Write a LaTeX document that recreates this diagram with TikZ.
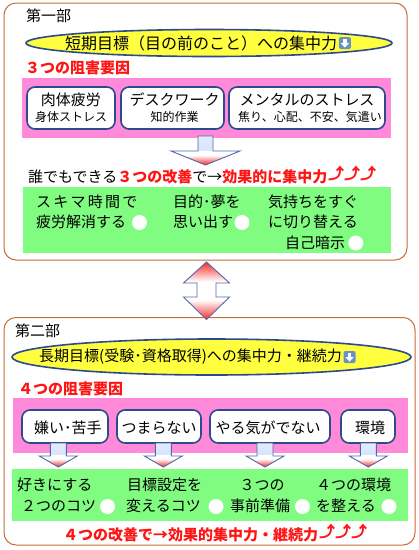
\documentclass[tikz,border=0pt]{standalone}
\usepackage{fontspec}
\setmainfont{Noto Sans CJK JP}
\usetikzlibrary{shapes.geometric,arrows.meta}
\definecolor{frameor}{RGB}{198,110,58}
\definecolor{ellfill}{RGB}{255,255,64}
\definecolor{navy}{RGB}{44,74,140}
\definecolor{pinkband}{RGB}{255,138,218}
\definecolor{greenband}{RGB}{128,252,128}
\definecolor{redtxt}{RGB}{255,20,20}
\definecolor{arrblue}{RGB}{80,105,165}
\definecolor{shaftblue}{RGB}{215,228,250}
\definecolor{iconblue}{RGB}{105,145,195}
\definecolor{arrred}{RGB}{250,40,40}
\pgfdeclareverticalshading{downshade}{100bp}{color(0bp)=(arrred); color(25bp)=(arrred); color(42bp)=(white); color(50bp)=(white); color(51bp)=(shaftblue); color(75bp)=(shaftblue!70); color(100bp)=(shaftblue!70)}
\pgfdeclareverticalshading{dblshade}{100bp}{color(0bp)=(arrred); color(25bp)=(arrred); color(42bp)=(white); color(58bp)=(white); color(75bp)=(arrred); color(100bp)=(arrred)}
\newcommand\blockdown[6]{%
  \shadedraw[blockarrow] (#1-#3,#2) -- (#1+#3,#2) -- (#1+#3,#5) -- (#1+#4,#5)
    -- (#1,#6) -- (#1-#4,#5) -- (#1-#3,#5) -- cycle;}
\newcommand\dnicon[1]{%
  \fill[white] ([shift={(-1.6,-4.5)}]#1.center) rectangle ([shift={(1.6,0.5)}]#1.center);
  \fill[white] ([shift={(-4.2,0)}]#1.center) -- ([shift={(4.2,0)}]#1.center) -- ([shift={(0,4.6)}]#1.center) -- cycle;}
\tikzset{
  frame/.style={draw=frameor, line width=1pt, rounded corners=12pt},
  goal/.style={ellipse, draw=navy, line width=1.6pt, fill=ellfill, inner sep=0},
  factor/.style={draw=navy, line width=1.6pt, fill=white, rounded corners=8pt, inner sep=0},
  txt/.style={inner sep=0, anchor=west, font=\fontsize{15}{18}\selectfont},
  ctxt/.style={inner sep=0, font=\fontsize{15}{18}\selectfont},
  subtxt/.style={inner sep=0, font=\fontsize{12}{14}\selectfont},
  redhead/.style={txt, text=redtxt, font=\fontsize{15}{18}\selectfont\bfseries},
  iconbox/.style={draw=none, fill=iconblue, rounded corners=2pt, minimum size=12pt, inner sep=0},
  dot/.style={circle, fill=white, minimum size=15pt, inner sep=0},
  uparr/.style={inner sep=0, anchor=west, text=redtxt, font=\bfseries\fontsize{16}{18}\selectfont},
  blockarrow/.style={draw=arrblue, line width=0.9pt, shading=downshade},
  dblarrow/.style={draw=arrblue, line width=0.9pt, shading=dblshade},
}
\begin{document}
\begin{tikzpicture}[x=1pt,y=-1pt]
\fill[white] (0,0) rectangle (419,550);
\useasboundingbox (0,0) rectangle (419,550);
% frames
\draw[frame] (4,3) rectangle (407,260);
\draw[frame] (4,317.5) rectangle (415,545);
% ---------- part 1
\node[txt] (p1) at (26,16) {第一部};
\node[goal, minimum width=366pt, minimum height=27pt] (g1) at (209,43) {};
\node[txt, font=\fontsize{16}{18}\selectfont] (g1t) at (65,43) {短期目標（目の前のこと）への集中力};
\node[iconbox] (g1i) at ([xshift=7.5pt]g1t.east) {};
\dnicon{g1i}
\node[redhead] (h1) at (25,68) {３つの阻害要因};
\fill[pinkband] (22,78) rectangle (391,138);
\node[factor, minimum width=88pt, minimum height=42pt] (f1) at (71,108) {};
\node[ctxt] (f1a) at ([shift={(0,-8)}]f1.center) {肉体疲労};
\node[subtxt] (f1b) at ([shift={(0,9)}]f1.center) {身体ストレス};
\node[factor, minimum width=103pt, minimum height=42pt] (f2) at (172.5,108) {};
\node[ctxt] (f2a) at ([shift={(2,-8)}]f2.center) {デスクワーク};
\node[subtxt] (f2b) at ([shift={(2,9)}]f2.center) {知的作業};
\node[factor, minimum width=156pt, minimum height=42pt] (f3) at (307,108) {};
\node[ctxt] (f3a) at ([shift={(0,-8)}]f3.center) {メンタルのストレス};
\node[subtxt] (f3b) at ([shift={(3,9)}]f3.center) {焦り、心配、不安、気遣い};
\blockdown{205.5}{136}{7.5}{34.5}{151}{165}
\node[txt] (l1) at (28,177) {誰でもできる{\bfseries\color{redtxt}３つの改善}で→{\bfseries\color{redtxt}効果的に集中力}};
\node[uparr] (l1u) at ([shift={(0.5,-4)}]l1.east) {⤴⤴⤴};
\fill[greenband] (23,187) rectangle (391,253);
\node[txt, font=\fontsize{15}{18}\selectfont\addfontfeature{LetterSpace=15}] (s1a) at (36,202) {スキマ時間で};
\node[txt] (s1b) at (36,222) {疲労解消する};
\node[dot] (d1) at (139.5,222.5) {};
\node[txt] (s2a) at (173,202) {目的･夢を};
\node[txt] (s2b) at (173,222) {思い出す};
\node[dot] (d2) at (242,222.5) {};
\node[txt] (s3a) at (268,202) {気持ちをすぐ};
\node[txt] (s3b) at (268,222) {に切り替える};
\node[txt] (s3c) at (285,243) {自己暗示};
\node[dot] (d3) at (355.8,243) {};
% double arrow
\shadedraw[dblarrow] (206.5,262) -- (229.5,283) -- (216,283) -- (216,297) -- (229.5,297)
  -- (206.5,319.5) -- (183.5,297) -- (197,297) -- (197,283) -- (183.5,283) -- cycle;
% ---------- part 2
\node[txt] (p2) at (15,331) {第二部};
\node[goal, minimum width=399pt, minimum height=36pt] (g2) at (211.5,357) {};
\node[txt] (g2t) at (39,357) {長期目標(受験･資格取得)への集中力・継続力};
\node[iconbox] (g2i) at ([xshift=7.5pt]g2t.east) {};
\dnicon{g2i}
\node[redhead] (h2) at (18,389) {４つの阻害要因};
\fill[pinkband] (13,398) rectangle (408,453);
\node[factor, minimum width=86pt, minimum height=33pt] (k1) at (65,426.5) {};
\node[ctxt] (k1t) at ([shift={(3,1.5)}]k1.center) {嫌い･苦手};
\node[factor, minimum width=84pt, minimum height=33pt] (k2) at (159,426.5) {};
\node[ctxt] (k2t) at ([shift={(0,1.5)}]k2.center) {つまらない};
\node[factor, minimum width=120pt, minimum height=33pt] (k3) at (270,426.5) {};
\node[ctxt] (k3t) at ([shift={(-2,1.5)}]k3.center) {やる気がでない};
\node[factor, minimum width=54pt, minimum height=33pt] (k4) at (368,426.5) {};
\node[ctxt] (k4t) at ([shift={(2,1.5)}]k4.center) {環境};
\blockdown{58.3}{443}{8}{19}{456}{467}
\blockdown{163.3}{443}{8}{19}{456}{467}
\blockdown{265}{443}{8}{19}{456}{467}
\blockdown{368.3}{443}{8}{19}{456}{467}
\fill[greenband] (12,469) rectangle (408,521);
\node[txt] (m1a) at (17,485) {好きにする};
\node[txt] (m1b) at (21,506) {２つのコツ};
\node[dot] (e1) at (107.5,506.5) {};
\node[txt] (m2a) at (127,485) {目標設定を};
\node[txt] (m2b) at (126,506) {変えるコツ};
\node[dot] (e2) at (216,506.5) {};
\node[ctxt] (m3a) at (262,485) {３つの};
\node[txt] (m3b) at (230,506) {事前準備};
\node[dot] (e3) at (302.5,506.5) {};
\node[txt] (m4a) at (316,485) {４つの環境};
\node[txt] (m4b) at (316,506) {を整える};
\node[dot] (e4) at (389,506.5) {};
\node[redhead] (l2) at (63,535) {４つの改善で→効果的集中力・継続力};
\node[uparr] (l2u) at ([shift={(0.5,-4)}]l2.east) {⤴⤴⤴};
\end{tikzpicture}
\end{document}
